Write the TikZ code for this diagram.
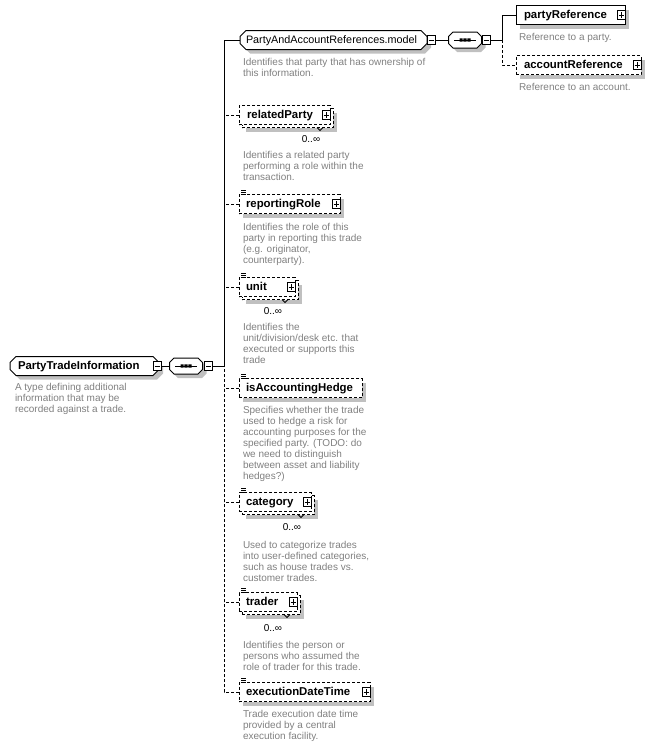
\documentclass[tikz,border=0pt]{standalone}
\usepackage{fontspec}
\setmainfont{Liberation Sans}
\usetikzlibrary{shapes.misc,shadows}
\definecolor{shd}{RGB}{192,192,192}
\definecolor{desc}{RGB}{128,128,128}
\tikzset{
  conn/.style={line width=1pt},
  optb/.style={dash pattern=on 3pt off 2pt},
  single/.style={drop shadow={shadow xshift=4pt, shadow yshift=-4pt, fill=shd, opacity=1}},
  multi/.style={drop shadow={shadow xshift=7pt, shadow yshift=-7pt, fill=shd, opacity=1},
    copy shadow={shadow xshift=3pt, shadow yshift=-3pt, fill=white, draw=black, line width=1pt, dash pattern=on 3pt off 2pt, opacity=1}},
  box/.style={draw, line width=1pt, fill=white, minimum height=19pt, inner ysep=0pt, outer sep=0pt,
    anchor=west, align=left, text height=8.2pt, text depth=1.8pt, font=\fontsize{11.4}{13}\selectfont\bfseries},
  grp/.style={chamfered rectangle, chamfered rectangle xsep=3pt, chamfered rectangle ysep=3pt,
    draw, line width=1pt, fill=white, minimum height=19pt, inner ysep=0pt, outer sep=0pt,
    anchor=west, align=left, text height=8.2pt, text depth=1.8pt, single},
  compbase/.style={inner sep=0pt, outer sep=0pt, minimum width=33pt, minimum height=16pt},
  compline/.style={line width=1pt, draw=black, fill=white},
  btn/.style={draw, line width=1pt, fill=white, solid, minimum width=8pt, minimum height=9pt, inner sep=0pt, outer sep=0pt},
  minusb/.style={btn, path picture={\draw[line width=1pt] ([xshift=1.5pt]path picture bounding box.west) -- ([xshift=-1.5pt]path picture bounding box.east);}},
  plusb/.style={btn, path picture={\draw[line width=1pt] ([xshift=1.5pt]path picture bounding box.west) -- ([xshift=-1.5pt]path picture bounding box.east);
    \draw[line width=1pt] ([yshift=-1.5pt]path picture bounding box.north) -- ([yshift=1.5pt]path picture bounding box.south);}},
  desc/.style={anchor=north west, inner sep=0pt, outer sep=0pt, align=left, text=desc, font=\fontsize{10}{11}\selectfont},
  mult/.style={inner sep=0pt, font=\fontsize{10}{11}\selectfont},
  tick/.style={line width=0.8pt}
}
\newcommand\simpicon[1]{\draw[line width=1pt] ([xshift=2pt,yshift=4pt]#1.north west) -- ++(5,0)
  ([xshift=2pt,yshift=2pt]#1.north west) -- ++(5,0) ([xshift=2pt]#1.north west) -- ++(5,0);}
\newcommand\multtick[1]{\draw[tick] ([xshift=-13pt,yshift=-3pt]#1.south east) -- ([xshift=-10pt,yshift=-6pt]#1.south east) -- ([xshift=-7pt,yshift=-3pt]#1.south east);}
% sequence compositor: name, centre x, centre y
\newcommand\compo[3]{%
  \node[compbase] (#1) at (#2,#3) {};
  \begin{scope}[shift={(#2,#3)}]
    \fill[shd, shift={(4,4)}] (-12,-8) -- (12,-8) -- (16.5,-3.5) -- (16.5,3.5) -- (12,8) -- (-12,8) -- (-16.5,3.5) -- (-16.5,-3.5) -- cycle;
    \filldraw[compline] (-12,-8) -- (12,-8) -- (16.5,-3.5) -- (16.5,3.5) -- (12,8) -- (-12,8) -- (-16.5,3.5) -- (-16.5,-3.5) -- cycle;
    \draw[line width=1pt] (-11,0) -- (11,0);
    \fill (-5.5,-1.6) rectangle (-2.3,1.6) (-1.6,-1.6) rectangle (1.6,1.6) (2.3,-1.6) rectangle (5.5,1.6);
  \end{scope}}
\begin{document}
\begin{tikzpicture}[x=1pt,y=-1pt]
\useasboundingbox (0,0) rectangle (651,747);

% root
\node[grp, font=\fontsize{11.4}{13}\selectfont\bfseries, minimum width=143pt, text width=133pt, inner xsep=5pt] (root) at (10,366) {PartyTradeInformation};
\node[minusb] (rootb) at ([xshift=-2pt]root.east) {};
\node[desc] (droot) at (15,383) {A type defining additional\\information that may be\\recorded against a trade.};
\compo{c1}{186}{366}
\node[minusb] (c1b) at ([xshift=6pt]c1.east) {};
\coordinate (j1) at (224,366);
\draw[conn] (rootb.east) -- (c1.west);
\draw[conn] (c1b.east) -- (j1);

% model group
\node[grp, font=\fontsize{10.8}{13}\selectfont, minimum width=181pt, text width=175pt, inner xsep=3pt] (model) at (240,40) {PartyAndAccountReferences.model};
\node[minusb] (modelb) at ([xshift=4pt]model.east) {};
\node[desc] (dmodel) at (243,58) {Identifies that party that has ownership of\\this information.};
\compo{c2}{465}{40}
\node[minusb] (c2b) at ([xshift=5pt]c2.east) {};
\coordinate (j2) at (502,40);
\draw[conn] (modelb.east) -- (c2.west);
\draw[conn] (c2b.east) -- (j2);

\node[box, single, minimum width=109pt, text width=93pt, inner xsep=8pt] (pr) at (516,15) {partyReference};
\node[plusb] (prb) at ([xshift=-4pt]pr.east) {};
\node[desc] (dpr) at (519,33) {Reference to a party.};
\node[box, optb, single, minimum width=125pt, text width=109pt, inner xsep=8pt] (ar) at (516,65) {accountReference};
\node[plusb] (arb) at ([xshift=-4pt]ar.east) {};
\node[desc] (dar) at (519,83) {Reference to an account.};
\draw[conn] (j2) |- (pr.west);
\draw[conn, optb] (j2) |- (ar.west);

% children
\node[box, optb, multi, minimum width=91pt, text width=75pt, inner xsep=8pt] (rp) at (239,115) {relatedParty};
\node[plusb] (rpb) at ([xshift=-4pt]rp.east) {};
\multtick{rp}
\node[mult] (mrp) at (311,139) {0..∞};
\node[desc] (drp) at (243,151) {Identifies a related party\\performing a role within the\\transaction.};

\node[box, optb, single, minimum width=101pt, text width=87pt, inner xsep=7pt] (rr) at (239,204) {reportingRole};
\node[plusb] (rrb) at ([xshift=-4pt]rr.east) {};
\simpicon{rr}
\node[desc] (drr) at (243,223) {Identifies the role of this\\party in reporting this trade\\(e.g. originator,\\counterparty).};

\node[box, optb, multi, minimum width=56pt, text width=42pt, inner xsep=7pt] (un) at (239,287) {unit};
\node[plusb] (unb) at ([xshift=-4pt]un.east) {};
\simpicon{un}
\multtick{un}
\node[mult] (mun) at (273,311) {0..∞};
\node[desc] (dun) at (243,323) {Identifies the\\unit/division/desk etc. that\\executed or supports this\\trade};

\node[box, optb, single, minimum width=123pt, text width=109pt, inner xsep=7pt] (ah) at (239,388) {isAccountingHedge};
\simpicon{ah}
\node[desc] (dah) at (243,406) {Specifies whether the trade\\used to hedge a risk for\\accounting purposes for the\\specified party. (TODO: do\\we need to distinguish\\between asset and liability\\hedges?)};

\node[box, optb, multi, minimum width=72pt, text width=58pt, inner xsep=7pt] (ca) at (239,502) {category};
\node[plusb] (cab) at ([xshift=-4pt]ca.east) {};
\simpicon{ca}
\multtick{ca}
\node[mult] (mca) at (292,527) {0..∞};
\node[desc] (dca) at (243,541) {Used to categorize trades\\into user-defined categories,\\such as house trades vs.\\customer trades.};

\node[box, optb, multi, minimum width=58pt, text width=44pt, inner xsep=7pt] (tr) at (239,602) {trader};
\node[plusb] (trb) at ([xshift=-4pt]tr.east) {};
\simpicon{tr}
\multtick{tr}
\node[mult] (mtr) at (273,628) {0..∞};
\node[desc] (dtr) at (243,641) {Identifies the person or\\persons who assumed the\\role of trader for this trade.};

\node[box, optb, single, minimum width=131pt, text width=117pt, inner xsep=7pt] (ex) at (239,692) {executionDateTime};
\node[plusb] (exb) at ([xshift=-4pt]ex.east) {};
\simpicon{ex}
\node[desc] (dex) at (243,710) {Trade execution date time\\provided by a central\\execution facility.};

% connectors
\draw[conn] (model.west) -| (j1);
\draw[conn, optb] (ex.west) -| (j1);
\draw[conn, optb] (rp.west) -- (rp.west -| j1);
\draw[conn, optb] (rr.west) -- (rr.west -| j1);
\draw[conn, optb] (un.west) -- (un.west -| j1);
\draw[conn, optb] (ah.west) -- (ah.west -| j1);
\draw[conn, optb] (ca.west) -- (ca.west -| j1);
\draw[conn, optb] (tr.west) -- (tr.west -| j1);
\end{tikzpicture}
\end{document}
